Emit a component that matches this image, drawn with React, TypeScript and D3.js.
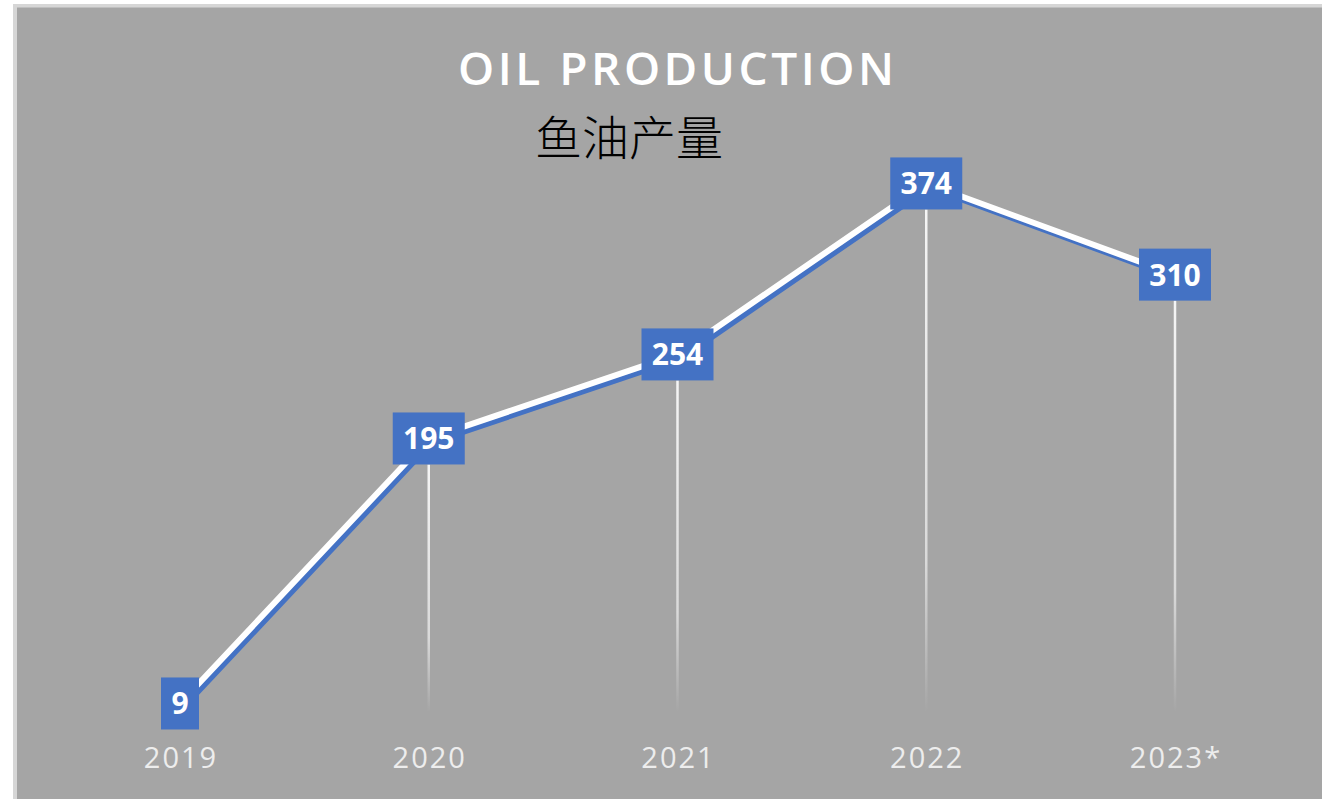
import { useEffect, useRef } from 'react';
import * as d3 from 'd3';

const years = ['2019', '2020', '2021', '2022', '2023*'];
const production = [9, 195, 254, 374, 310];
const title = 'OIL PRODUCTION';
const subtitle = '鱼油产量';

const W = 1322;
const H = 799;

const App = () => {
  const svgRef = useRef<SVGSVGElement>(null);

  useEffect(() => {
    const svg = d3.select(svgRef.current);
    svg.selectAll('*').remove();

    const data = years.map((year, i) => ({ year, value: production[i] }));

    const x = d3.scalePoint<string>().domain(years).range([180, 1175]);
    const y = d3.scaleLinear().domain([0, 400]).range([716.3, 146.4]);

    const defs = svg.append('defs');
    const grad = defs
      .append('linearGradient')
      .attr('id', 'drop')
      .attr('x1', 0)
      .attr('y1', 0)
      .attr('x2', 0)
      .attr('y2', 1);
    grad.append('stop').attr('offset', '0%').attr('stop-color', '#f5f5f5').attr('stop-opacity', 1);
    grad.append('stop').attr('offset', '70%').attr('stop-color', '#f0f0f0').attr('stop-opacity', 0.7);
    grad.append('stop').attr('offset', '100%').attr('stop-color', '#f0f0f0').attr('stop-opacity', 0);

    // background + frame
    svg.append('rect').attr('width', W).attr('height', H).attr('fill', '#ffffff');
    svg.append('rect').attr('x', 13).attr('y', 4).attr('width', W - 13).attr('height', H - 4).attr('fill', '#d6d6d6');
    svg.append('rect').attr('x', 17).attr('y', 7.5).attr('width', W - 17).attr('height', H - 7.5).attr('fill', '#a5a5a5');

    // titles
    const spacing = 3.5;
    svg
      .append('text')
      .attr('x', 676 + spacing / 2)
      .attr('y', 85)
      .attr('text-anchor', 'middle')
      .attr('fill', '#ffffff')
      .style('font-family', '"Open Sans", sans-serif')
      .style('font-weight', 600)
      .style('font-size', '46px')
      .style('letter-spacing', `${spacing}px`)
      .text(title);

    svg
      .append('text')
      .attr('x', 535)
      .attr('y', 155)
      .attr('fill', '#000000')
      .style('font-family', '"Noto Sans CJK SC", sans-serif')
      .style('font-weight', 300)
      .style('font-size', '47px')
      .text(subtitle);

    // axis labels
    svg
      .append('g')
      .selectAll('text')
      .data(data)
      .join('text')
      .attr('x', d => (x(d.year) as number) + 1)
      .attr('y', 768)
      .attr('text-anchor', 'middle')
      .attr('fill', '#ededed')
      .style('font-family', '"Open Sans", sans-serif')
      .style('font-size', '29px')
      .style('letter-spacing', '2px')
      .text(d => d.year);

    // label sizes
    const labelFont = 30;
    const boxW = (d: { value: number }) => String(d.value).length * 17 + 21;
    const boxH = 52;
    const baseY = 712;

    // drop lines
    svg
      .append('g')
      .selectAll('rect')
      .data(data.filter(d => y(d.value) + boxH / 2 < baseY))
      .join('rect')
      .attr('x', d => (x(d.year) as number) - 1.25)
      .attr('y', d => y(d.value) + boxH / 2)
      .attr('width', 2.5)
      .attr('height', d => baseY - (y(d.value) + boxH / 2))
      .attr('fill', 'url(#drop)');

    // line with blue shadow
    const line = d3
      .line<{ year: string; value: number }>()
      .x(d => x(d.year) as number)
      .y(d => y(d.value));

    svg
      .append('path')
      .datum(data)
      .attr('transform', 'translate(3,4)')
      .attr('fill', 'none')
      .attr('stroke', '#4472c4')
      .attr('stroke-width', 6)
      .attr('stroke-linejoin', 'round')
      .attr('d', line);

    svg
      .append('path')
      .datum(data)
      .attr('fill', 'none')
      .attr('stroke', '#ffffff')
      .attr('stroke-width', 6)
      .attr('stroke-linejoin', 'round')
      .attr('d', line);

    // value boxes
    const labels = svg.append('g').selectAll('g').data(data).join('g');

    labels
      .append('rect')
      .attr('x', d => (x(d.year) as number) - boxW(d) / 2)
      .attr('y', d => y(d.value) - boxH / 2)
      .attr('width', d => boxW(d))
      .attr('height', boxH)
      .attr('fill', '#4472c4');

    labels
      .append('text')
      .attr('x', d => x(d.year) as number)
      .attr('y', d => y(d.value) + 11)
      .attr('text-anchor', 'middle')
      .attr('fill', '#ffffff')
      .style('font-family', '"Open Sans", sans-serif')
      .style('font-weight', 'bold')
      .style('font-size', `${labelFont}px`)
      .text(d => d.value);
  }, []);

  return (
    <svg
      ref={svgRef}
      width={W}
      height={H}
      style={{ position: 'absolute', left: 0, top: 0, display: 'block' }}
    />
  );
};

export default App;
